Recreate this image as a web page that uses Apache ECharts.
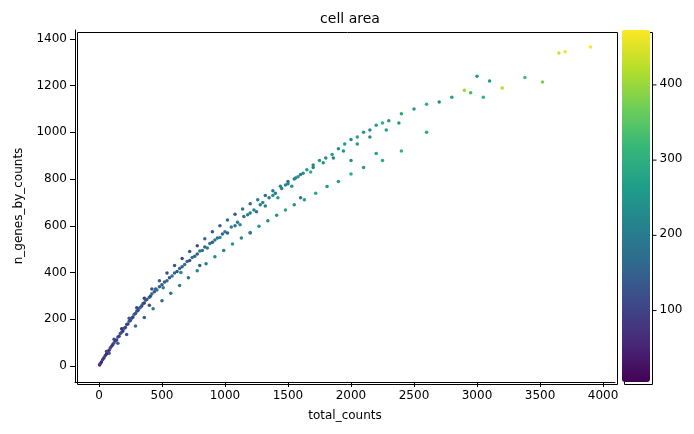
<!DOCTYPE html><html><head><meta charset="utf-8">
<script src="https://cdn.jsdelivr.net/npm/echarts@6/dist/echarts.min.js"></script>
<style>html,body{margin:0;padding:0;background:#fff}#c{width:694px;height:434px}</style></head><body><div id="c"></div>
<script>
const totalCounts=[5,10,20,30,40,50,60,70,80,90,100,110,120,130,140,150,160,170,180,190,200,210,220,230,240,250,260,270,280,290,300,310,320,330,340,350,360,370,380,400,410,420,440,450,460,480,500,510,520,540,560,580,600,620,640,650,660,680,700,720,740,760,780,800,820,840,860,880,900,920,940,960,980,1000,1020,1050,1080,1100,1120,1150,1180,1200,1230,1250,1280,1300,1320,1350,1380,1400,1420,1450,1480,1500,1530,1550,1580,1600,1650,1680,1700,1750,1800,1850,1900,1950,2000,2050,2100,2150,2200,2250,2300,2400,2500,2600,2700,2800,2900,2950,3000,3050,3100,3200,3380,3520,3650,3700,3900,1600,2000,2200,2600,1200,800,400];
const nGenes=[5,10,18,28,36,45,52,62,68,78,85,92,100,108,112,125,128,140,145,150,162,165,178,180,192,195,205,210,222,225,235,238,248,252,258,268,270,282,285,295,300,310,318,330,326,340,348,335,360,365,378,385,398,405,418,400,425,435,448,452,465,470,480,492,495,510,505,525,530,540,548,550,565,575,570,595,600,615,605,640,648,655,668,660,690,700,685,720,730,740,720,760,775,780,770,800,810,820,840,830,860,880,890,905,930,950,970,980,1000,1010,1030,1040,1050,1080,1100,1120,1130,1150,1180,1170,1240,1150,1220,1190,1235,1215,1340,1345,1365,720,880,910,1000,570,430,260];
const cellArea=[60,80,50,90,70,100,60,120,80,110,90,70,130,100,80,140,90,110,150,70,120,100,140,90,160,110,130,80,150,120,170,100,140,190,110,150,90,170,130,150,110,180,140,120,200,150,130,210,140,170,120,190,150,130,170,220,140,180,150,120,190,160,140,200,170,150,210,180,140,200,170,230,160,190,150,210,180,200,230,170,210,190,220,180,200,230,210,190,240,200,260,210,230,190,250,220,240,200,260,300,230,250,220,270,240,260,230,280,250,230,270,300,250,280,260,300,230,270,400,330,260,310,260,420,330,380,440,460,470,180,240,270,290,200,150,120];
// upper edge of band
const upperCounts=[60,120,180,240,300,360,420,480,540,600,660,720,780,840,900,960,1020,1080,1140,1200,1260,1320,1380,1440,1500,1560,1620,1700,1780,1860,1940,2050,2150,2280,2380];
const upperGenes=[62,115,160,205,250,290,330,365,398,430,460,490,515,545,575,600,625,650,672,695,712,730,750,770,790,805,825,850,870,890,920,950,980,1010,1040];
const upperArea=[90,110,70,130,100,80,120,150,110,130,100,140,120,160,130,150,170,140,180,160,200,170,190,210,180,200,230,210,250,220,240,260,230,270,250];
// lower edge of band
const lowerCounts=[80,150,220,290,360,430,500,570,640,710,780,850,920,990,1060,1130,1200,1270,1340,1410,1480,1550,1630,1720,1810,1900,2000,2100,2250,2400];
const lowerGenes=[55,98,135,172,208,245,280,312,345,378,408,438,468,495,522,548,572,598,622,645,668,690,712,740,768,790,822,850,880,920];
const lowerArea=[120,150,130,170,140,200,160,190,210,180,220,200,230,210,250,220,240,260,230,250,280,240,260,290,250,270,300,260,290,310];
const toPts=(a,b,c)=>a.map((x,i)=>[x,b[i],c[i]]);
const data=[...toPts(upperCounts,upperGenes,upperArea),...toPts(lowerCounts,lowerGenes,lowerArea),...toPts(totalCounts,nGenes,cellArea)];
const ch=echarts.init(document.getElementById('c'));
const ax={color:'#000',fontSize:12,fontFamily:'DejaVu Sans'};
const xt=[0,500,1000,1500,2000,2500,3000,3500,4000], yt=[0,200,400,600,800,1000,1200,1400], cb=[100,200,300,400];
ch.setOption({
 title:{text:'cell area',left:345,top:7,textAlign:'center',textStyle:{fontSize:14,fontWeight:'normal',color:'#000',fontFamily:'DejaVu Sans'}},
 grid:{left:75,right:79,top:30,bottom:52},
 xAxis:{type:'value',min:-190,max:4095,name:'total_counts',nameLocation:'middle',nameGap:28,nameTextStyle:ax,
  axisLabel:{...ax,customValues:xt,formatter:v=>String(v)},axisTick:{customValues:xt,lineStyle:{color:'#000'}},
  axisLine:{onZero:false,lineStyle:{color:'#000'}},splitLine:{show:false}},
 yAxis:{type:'value',min:-68,max:1438,name:'n_genes_by_counts',nameLocation:'middle',nameGap:50,nameTextStyle:ax,
  axisLabel:{...ax,customValues:yt,formatter:v=>String(v)},axisTick:{customValues:yt,lineStyle:{color:'#000'}},
  axisLine:{show:true,onZero:false,lineStyle:{color:'#000'}},splitLine:{show:false}},
 visualMap:{type:'continuous',min:5,max:473,dimension:2,left:622,top:30,itemWidth:28,itemHeight:352,padding:0,calculable:false,text:null,showLabel:false,
  inRange:{color:['#440154','#482878','#3e4989','#31688e','#26828e','#1f9e89','#35b779','#6ece58','#b5de2b','#fde725']}},
 graphic:[{type:'rect',left:75,top:30,shape:{width:540,height:352},style:{fill:'none',stroke:'#000'},silent:true},
 {type:'rect',left:622,top:30,shape:{width:28,height:352},style:{fill:'none',stroke:'#000'},silent:true},
 ...cb.map(v=>({type:'group',left:650,top:382-(v-5)/(473-5)*352-7,children:[{type:'line',shape:{x1:0,y1:7,x2:4,y2:7},style:{stroke:'#000'}},{type:'text',x:7,y:0,style:{text:String(v),fill:'#000',font:'12px DejaVu Sans'}}]}))],
 series:[{type:'scatter',data:data,symbolSize:3.5,itemStyle:{opacity:1}}]
});
</script></body></html>
